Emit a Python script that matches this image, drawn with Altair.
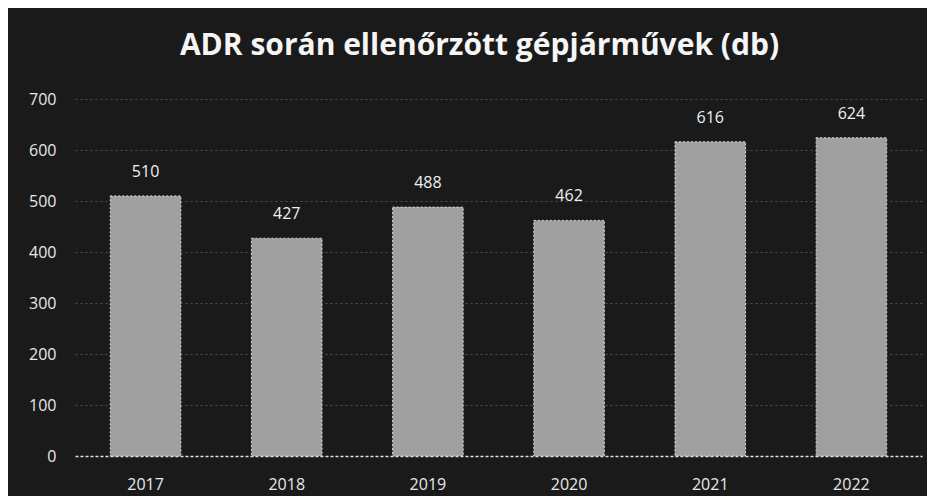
import altair as alt
import pandas as pd

years = ["2017", "2018", "2019", "2020", "2021", "2022"]
values = [510, 427, 488, 462, 616, 624]
title_text = "ADR során ellenőrzött gépjárművek (db)"

df = pd.DataFrame({"year": years, "value": values})

FONT = "Open Sans"
base = alt.Chart(df)

bars = base.mark_bar(color="#a0a0a0", stroke="#d8d8d8", strokeWidth=1, strokeDash=[2, 2]).encode(
    x=alt.X("year:N", sort=years, title=None,
            scale=alt.Scale(paddingInner=0.5, paddingOuter=0.25),
            axis=alt.Axis(labelAngle=0, labelFontSize=16, labelColor="#e8e8e8", labelFont=FONT,
                          ticks=False, domainColor="#e0e0e0", domainWidth=1.5,
                          domainDash=[3, 2], labelPadding=20)),
    y=alt.Y("value:Q", title=None,
            scale=alt.Scale(domain=[0, 700]),
            axis=alt.Axis(values=[0, 100, 200, 300, 400, 500, 600, 700], labelFontSize=16,
                          labelColor="#e8e8e8", labelFont=FONT, ticks=False, domain=False,
                          grid=True, gridColor="#8a8a8a", gridDash=[2, 3], gridWidth=1,
                          gridOpacity=0.5, labelPadding=19)),
)

labels = base.mark_text(dy=-24, fontSize=16, color="#f0f0f0", font=FONT).encode(
    x=alt.X("year:N", sort=years),
    y="value:Q",
    text="value:Q",
)

chart = (bars + labels).properties(
    width=847,
    height=357,
    background="#1a1a1a",
    padding={"left": 67, "top": 91, "right": 5, "bottom": 40},
    autosize=alt.AutoSizeParams(type="none"),
    title=alt.TitleParams(title_text, fontSize=30, font=FONT, fontWeight="bold",
                          color="#f5f5f5", anchor="middle", offset=30, dx=-19),
).configure_view(stroke=None)

chart.save("out.html", embed_options={"renderer": "svg", "actions": False})
